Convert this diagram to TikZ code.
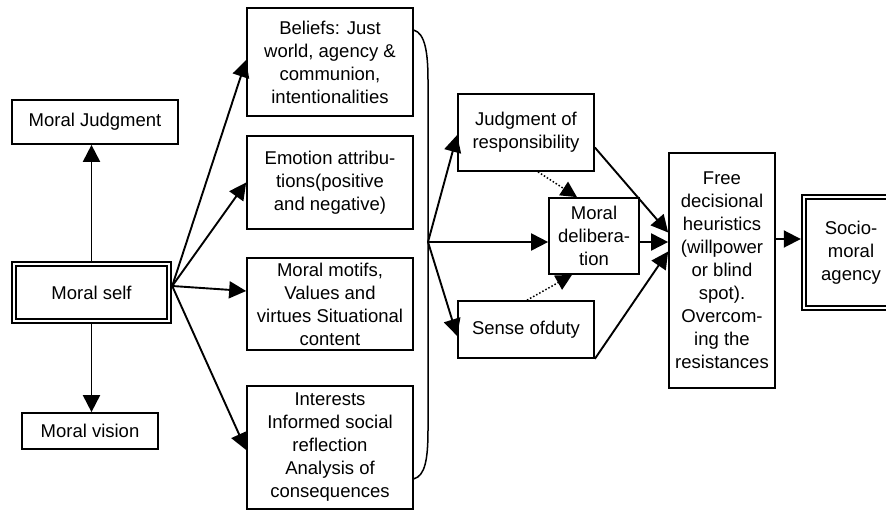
\documentclass[tikz,border=0pt]{standalone}
\usepackage{fontspec}
\setmainfont{Liberation Sans}
\usetikzlibrary{arrows.meta,calc}
\begin{document}
\begin{tikzpicture}[x=1pt,y=-1pt,
  box/.style={draw, line width=1.7pt, inner sep=0pt, align=center,
              font=\fontsize{18.5}{23}\selectfont},
  dbox/.style={box, line width=2.4pt},
  inner/.style={line width=2pt},
  arr/.style={line width=1.9pt, -{Triangle[length=17pt,width=17pt]}},
  dotarr/.style={line width=1.5pt, dotted, -{Triangle[length=16pt,width=16pt]}},
  brace/.style={line width=1.5pt}]
\useasboundingbox (0,0) rectangle (886,510);

% left column
\node[box, minimum width=166, minimum height=44] (mj) at (95,122) {Moral Judgment};
\node[dbox, minimum width=159, minimum height=61] (self) at (91.5,292.5) {Moral self};
\draw[inner] ($(self.north west)+(5,5)$) rectangle ($(self.south east)+(-5,-5)$);
\node[box, minimum width=136, minimum height=36] (mv) at (90,431) {Moral vision};

% content boxes
\node[box, minimum width=166, minimum height=108] (bel) at (330,62)
  {Beliefs: Just\\world, agency \&\\communion,\\intentionalities};
\node[box, minimum width=166, minimum height=93] (emo) at (330,182.5)
  {Emotion attribu-\\tions(positive\\and negative)};
\node[box, minimum width=166, minimum height=92] (mot) at (330,304)
  {Moral motifs,\\Values and\\virtues Situational\\content};
\node[box, minimum width=166, minimum height=123] (int) at (330,447.5)
  {Interests\\Informed social\\reflection\\Analysis of\\consequences};

% middle column
\node[box, minimum width=136, minimum height=77] (jr) at (526,132.5)
  {Judgment of\\responsibility};
\node[box, minimum width=90, minimum height=76] (del) at (594,236)
  {Moral\\delibera-\\tion};
\node[box, minimum width=136, minimum height=57] (sd) at (526,329.5)
  {Sense ofduty};

% right column
\node[box, minimum width=106, minimum height=235] (fr) at (722,270.5)
  {Free\\decisional\\heuristics\\(willpower\\or blind\\spot).\\Overcom-\\ing the\\resistances};
\node[dbox, minimum width=98, minimum height=115] (so) at (851,252.5)
  {Socio-\\moral\\agency};
\draw[inner] ($(so.north west)+(5,5)$) rectangle ($(so.south east)+(-5,-5)$);

% arrows from the moral self
\draw[arr] (self.north) -- (self.north |- mj.south);
\draw[arr] (self.south) -- (self.south |- mv.north);
\coordinate (s0) at ($(self.east)+(0,-6.5)$);
\draw[arr] (s0) -- ($(bel.west)+(0,-2)$);
\draw[arr] (s0) -- (emo.west);
\draw[arr] (s0) -- ($(mot.west)+(0,-13)$);
\draw[arr] (s0) -- ($(int.west)+(0,2.5)$);

% bracket gathering the four content boxes
\draw[brace] ($(bel.north east)+(0,23)$) .. controls +(11,3) and +(0,-28) .. (428,80)
  -- (428,430) .. controls +(0,30) and +(11,-3) .. ($(int.south east)+(0,-31)$);
\coordinate (fan) at (428,242);

% from the bracket to the judgments
\draw[arr] (fan) -- ($(jr.west)+(0,2.5)$);
\draw[arr] (fan) -- (fan -| del.west);
\draw[arr] (fan) -- ($(sd.west)+(0,6.5)$);
\draw[dotarr] ($(jr.south)+(12,0)$) -- ($(del.north)+(-17,0)$);
\draw[dotarr] ($(sd.north)+(1,0)$) -- ($(del.south)+(-22,0)$);

% into the decisional heuristics
\draw[arr] ($(jr.east)+(0,15)$) -- ($(fr.west)+(0,-38)$);
\draw[arr] (fan -| del.east) -- (fan -| fr.west);
\draw[arr] (sd.south east) -- ($(fr.west)+(0,-19)$);

% towards agency
\draw[arr] ($(fr.east)+(0,-31.5)$) coordinate (fs) -- (fs -| so.west);
\end{tikzpicture}
\end{document}
